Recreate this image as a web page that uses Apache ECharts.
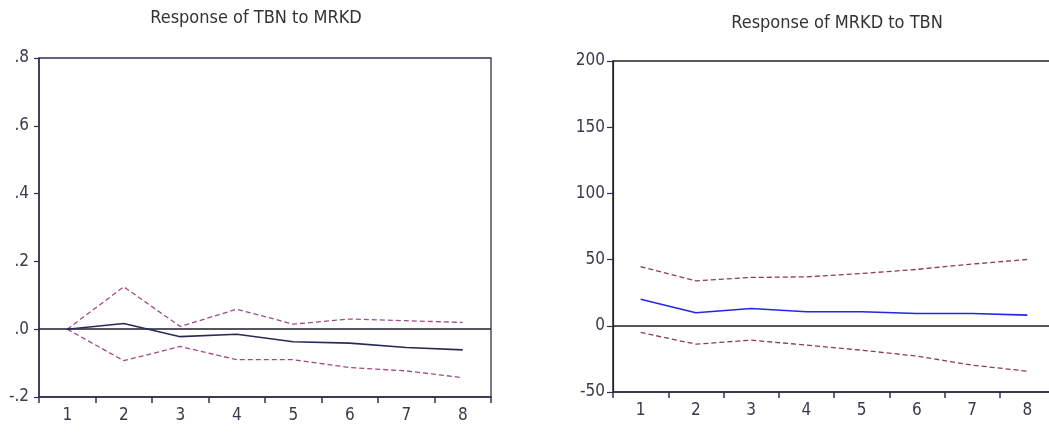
<!DOCTYPE html>
<html>
<head>
<meta charset="utf-8">
<script src="https://cdn.jsdelivr.net/npm/echarts@6/dist/echarts.min.js"></script>
<style>
  html, body { margin: 0; padding: 0; background: #fff; }
  #chart { width: 1049px; height: 433px; }
</style>
</head>
<body>
<div id="chart"></div>
<script>
// periods
const periods = ['1', '2', '3', '4', '5', '6', '7', '8'];

// Response of TBN to MRKD
const tbnResponse = [0, 0.017, -0.022, -0.015, -0.037, -0.041, -0.054, -0.061];
const tbnUpper = [0, 0.125, 0.008, 0.059, 0.015, 0.03, 0.025, 0.02];
const tbnLower = [0, -0.093, -0.051, -0.09, -0.09, -0.113, -0.123, -0.143];
const tbnTickValues = [-0.2, 0, 0.2, 0.4, 0.6, 0.8];
const tbnTickLabels = ['-.2', '.0', '.2', '.4', '.6', '.8'];

// Response of MRKD to TBN
const mrkdResponse = [20.1, 9.8, 13.1, 10.6, 10.6, 9.3, 9.3, 8.1];
const mrkdUpper = [44.6, 34, 36.5, 37, 39.5, 42.6, 46.6, 50.1];
const mrkdLower = [-5, -13.9, -10.8, -14.6, -18.4, -22.9, -29.7, -34.3];

const font = '"Liberation Sans Narrow", "DejaVu Sans Condensed", "Liberation Sans", sans-serif';
const axisColor = '#30304e';
const labelColor = '#3a3a4a';

const chart = echarts.init(document.getElementById('chart'));

function xAxisFor(gridIndex) {
    return {
        type: 'category',
        gridIndex: gridIndex,
        data: periods,
        boundaryGap: true,
        axisLine: { onZero: false, lineStyle: { color: axisColor, width: 1.5 } },
        axisTick: { show: true, length: 6, lineStyle: { color: axisColor, width: 1.5 } },
        axisLabel: { color: labelColor, fontFamily: font, fontSize: 17, margin: 10 },
        splitLine: { show: false }
    };
}

function zeroLine() {
    return {
        silent: true,
        symbol: 'none',
        label: { show: false },
        lineStyle: { color: '#1c1c2c', type: 'solid', width: 1.5 },
        data: [{ yAxis: 0 }]
    };
}

const option = {
    animation: false,
    title: [
        {
            text: 'Response of TBN to MRKD',
            left: 251, top: 4, textAlign: 'center',
            textStyle: { fontFamily: font, fontSize: 18, fontWeight: 'normal', color: '#333' }
        },
        {
            text: 'Response of MRKD to TBN',
            left: 832, top: 9, textAlign: 'center',
            textStyle: { fontFamily: font, fontSize: 18, fontWeight: 'normal', color: '#333' }
        }
    ],
    grid: [
        { left: 39, top: 58, width: 452, height: 339, show: true, borderColor: axisColor, borderWidth: 1.3, backgroundColor: '#fff', outerBoundsMode: 'none' },
        { left: 613, top: 61, width: 442, height: 331, show: true, borderColor: '#222', borderWidth: 1.5, backgroundColor: '#fff', outerBoundsMode: 'none' }
    ],
    xAxis: [xAxisFor(0), xAxisFor(1)],
    yAxis: [
        {
            type: 'value', gridIndex: 0, min: -0.2, max: 0.8, interval: 0.2,
            axisLine: { show: true, lineStyle: { color: axisColor, width: 1.5 } },
            axisTick: { show: true, length: 5, lineStyle: { color: axisColor, width: 1.2 } },
            axisLabel: {
                color: labelColor, fontFamily: font, fontSize: 17, margin: 10,
                formatter: function (v) {
                    const i = tbnTickValues.findIndex(t => Math.abs(t - v) < 1e-9);
                    return i >= 0 ? tbnTickLabels[i] : '';
                }
            },
            splitLine: { show: false }
        },
        {
            type: 'value', gridIndex: 1, min: -50, max: 200, interval: 50,
            axisLine: { show: true, lineStyle: { color: '#222', width: 1.2 } },
            axisTick: { show: true, length: 6, lineStyle: { color: axisColor, width: 1.2 } },
            axisLabel: { color: labelColor, fontFamily: font, fontSize: 17, margin: 8 },
            splitLine: { show: false }
        }
    ],
    series: [
        {
            name: 'TBN response', type: 'line', data: tbnResponse, xAxisIndex: 0, yAxisIndex: 0,
            symbol: 'none', lineStyle: { color: '#2a2a58', width: 1.6 }, z: 5,
            markLine: zeroLine()
        },
        {
            name: 'TBN upper', type: 'line', data: tbnUpper, xAxisIndex: 0, yAxisIndex: 0,
            symbol: 'none', lineStyle: { color: '#a04c80', width: 1.3, type: [5, 3] }
        },
        {
            name: 'TBN lower', type: 'line', data: tbnLower, xAxisIndex: 0, yAxisIndex: 0,
            symbol: 'none', lineStyle: { color: '#a04c80', width: 1.3, type: [5, 3] }
        },
        {
            name: 'MRKD response', type: 'line', data: mrkdResponse, xAxisIndex: 1, yAxisIndex: 1,
            symbol: 'none', lineStyle: { color: '#2626e6', width: 1.6 }, z: 5,
            markLine: zeroLine()
        },
        {
            name: 'MRKD upper', type: 'line', data: mrkdUpper, xAxisIndex: 1, yAxisIndex: 1,
            symbol: 'none', lineStyle: { color: '#8e3c50', width: 1.3, type: [5, 3] }
        },
        {
            name: 'MRKD lower', type: 'line', data: mrkdLower, xAxisIndex: 1, yAxisIndex: 1,
            symbol: 'none', lineStyle: { color: '#8e3c50', width: 1.3, type: [5, 3] }
        }
    ]
};

chart.setOption(option);
</script>
</body>
</html>
